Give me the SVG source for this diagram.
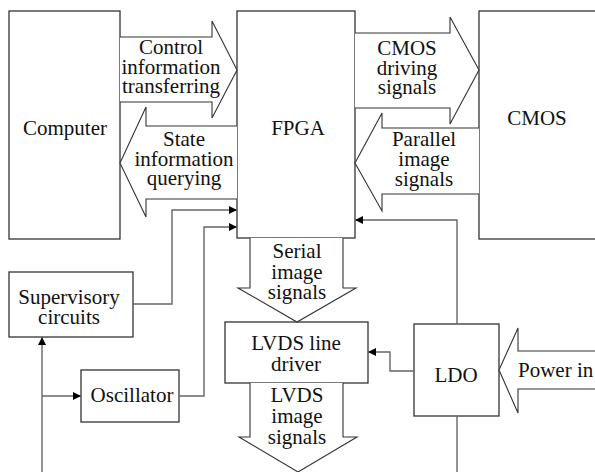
<svg xmlns="http://www.w3.org/2000/svg" width="595" height="472" viewBox="0 0 595 472">
  <defs>
    <marker id="tri" viewBox="0 0 10 10" refX="10" refY="5" markerWidth="8" markerHeight="8" markerUnits="userSpaceOnUse" orient="auto">
      <path d="M0,0 L10,5 L0,10 Z" fill="#000"/>
    </marker>
  </defs>
  <style>
    .box { fill: #fff; stroke: #333; stroke-width: 1.3; }
    .bus { fill: #fff; stroke: #333; stroke-width: 1.1; stroke-linejoin: miter; }
    .wire { fill: none; stroke: #666; stroke-width: 1.4; }
    .wire.arrow { marker-end: url(#tri); }
    text { font-family: "Liberation Serif", "Times New Roman", serif; font-size: 21px; fill: #111; text-anchor: middle; }
  </style>
  <rect width="595" height="472" fill="#fff"/>

  <!-- blocks -->
  <g id="computer"><rect class="box" x="9" y="11" width="111" height="228"/><text x="65" y="135">Computer</text></g>
  <g id="fpga"><rect class="box" x="237" y="11" width="118" height="227"/><text x="298" y="135">FPGA</text></g>
  <g id="cmos"><rect class="box" x="479" y="11" width="130" height="228"/><text x="537" y="125">CMOS</text></g>
  <g id="supervisory"><rect class="box" x="9" y="272" width="124" height="65"/><text x="69" y="304">Supervisory</text><text x="69" y="324">circuits</text></g>
  <g id="oscillator"><rect class="box" x="81" y="370" width="98" height="52"/><text x="132" y="402">Oscillator</text></g>
  <g id="lvds-driver"><rect class="box" x="225" y="322" width="143" height="61"/><text x="296" y="350">LVDS line</text><text x="296" y="371">driver</text></g>
  <g id="ldo"><rect class="box" x="414" y="324" width="85" height="92"/><text x="456" y="382">LDO</text></g>

  <!-- wide bus arrows -->
  <g id="bus-control">
    <path class="bus" d="M120,37 L212,37 L212,21 L237,70 L212,118 L212,102 L120,102"/>
    <text x="171" y="54">Control</text><text x="171" y="74">information</text><text x="171" y="93">transferring</text>
  </g>
  <g id="bus-state">
    <path class="bus" d="M237,126 L146,126 L146,107 L120,163 L146,217 L146,199 L237,199"/>
    <text x="184" y="146">State</text><text x="184" y="166">information</text><text x="184" y="185">querying</text>
  </g>
  <g id="bus-cmos-driving">
    <path class="bus" d="M355,33 L450,33 L450,17 L479,70 L450,124 L450,108 L355,108"/>
    <text x="407" y="55">CMOS</text><text x="407" y="75">driving</text><text x="407" y="94">signals</text>
  </g>
  <g id="bus-parallel">
    <path class="bus" d="M479,128 L382,128 L382,113 L355,163 L382,211 L382,194 L479,194"/>
    <text x="424" y="146">Parallel</text><text x="424" y="166">image</text><text x="424" y="186">signals</text>
  </g>
  <g id="bus-serial">
    <path class="bus" d="M250,238 L250,288 L238,288 L297,322 L356,288 L343,288 L343,238"/>
    <text x="297" y="258">Serial</text><text x="297" y="279">image</text><text x="297" y="299">signals</text>
  </g>
  <g id="bus-lvds-out">
    <path class="bus" d="M250,383 L250,437 L239,437 L298,472 L357,437 L343,437 L343,383"/>
    <text x="297" y="402">LVDS</text><text x="297" y="423">image</text><text x="297" y="444">signals</text>
  </g>
  <g id="bus-power">
    <path class="bus" d="M600,351 L518,351 L518,328 L499,370 L518,413 L518,389 L600,389"/>
    <text x="518" y="377" style="text-anchor:start">Power in</text>
  </g>

  <!-- signal wires -->
  <g id="connectors">
    <path class="wire arrow" d="M133,304 L172,304 L172,210 L237,210"/>
    <path class="wire arrow" d="M179,396 L204,396 L204,227 L237,227"/>
    <path class="wire arrow" d="M42,472 L42,337"/>
    <path class="wire arrow" d="M42,396 L81,396"/>
    <path class="wire arrow" d="M457,324 L457,220 L355,220"/>
    <path class="wire" d="M457,416 L457,472"/>
    <path class="wire arrow" d="M414,371 L390,371 L390,352 L368,352"/>
  </g>
</svg>
